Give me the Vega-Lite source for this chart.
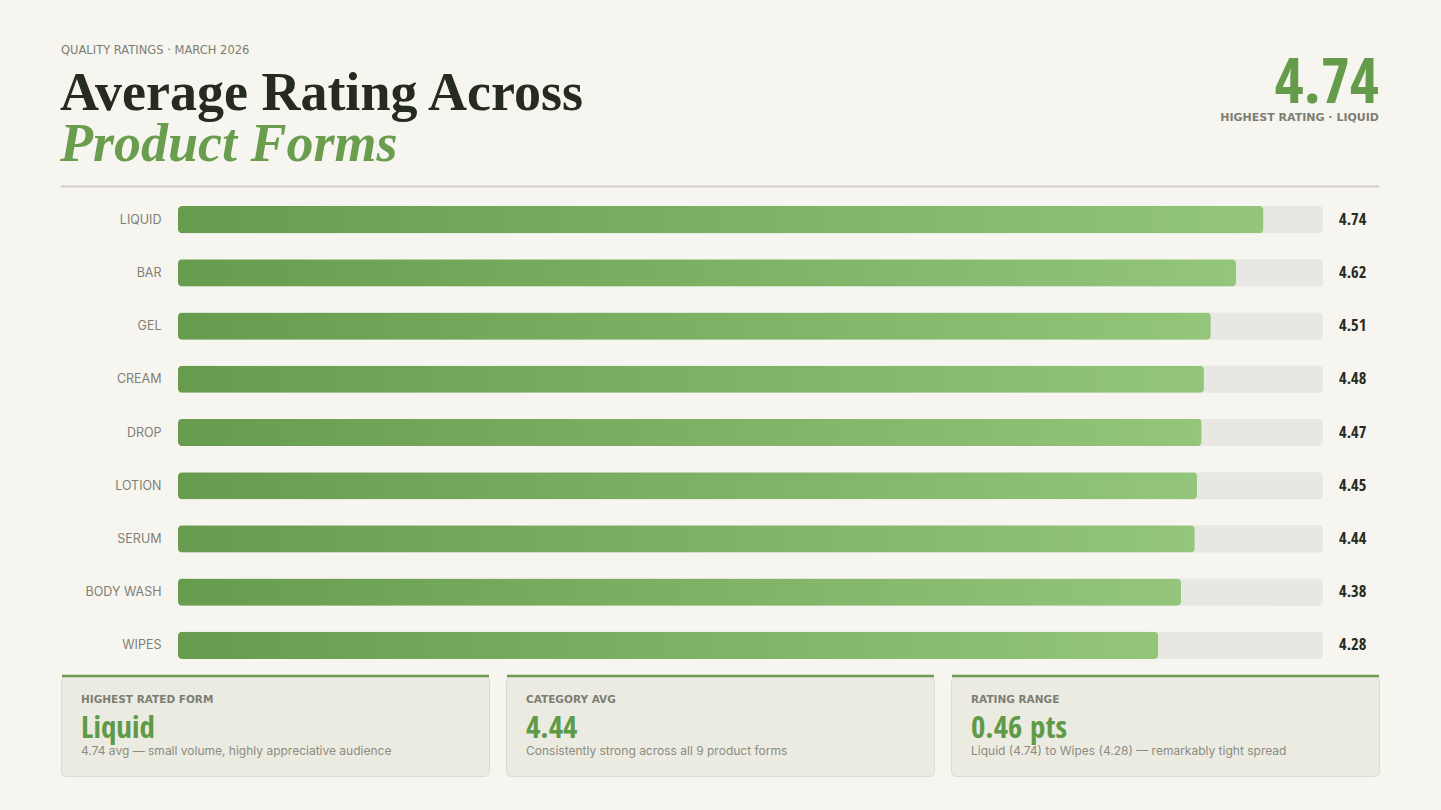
{
  "$schema": "https://vega.github.io/schema/vega-lite/v6.json",
  "background": "#f6f5f0",
  "padding": {"left": 60, "top": 30, "right": 63, "bottom": 34},
  "spacing": 4,
  "bounds": "flush",
  "datasets": {
    "forms": [
      {"form": "Liquid", "rating": 4.74},
      {"form": "Bar", "rating": 4.62},
      {"form": "Gel", "rating": 4.51},
      {"form": "Cream", "rating": 4.48},
      {"form": "Drop", "rating": 4.47},
      {"form": "Lotion", "rating": 4.45},
      {"form": "Serum", "rating": 4.44},
      {"form": "Body Wash", "rating": 4.38},
      {"form": "Wipes", "rating": 4.28}
    ],
    "header": [
      {"eyebrow": "QUALITY RATINGS · MARCH 2026", "line1": "Average Rating Across", "line2": "Product Forms", "top": "4.74", "topnote": "HIGHEST RATING · LIQUID"}
    ],
    "cards": [
      {"order": 1, "label": "HIGHEST RATED FORM", "value": "Liquid", "note": "4.74 avg — small volume, highly appreciative audience"},
      {"order": 2, "label": "CATEGORY AVG", "value": "4.44", "note": "Consistently strong across all 9 product forms"},
      {"order": 3, "label": "RATING RANGE", "value": "0.46 pts", "note": "Liquid (4.74) to Wipes (4.28) — remarkably tight spread"}
    ]
  },
  "vconcat": [
    {
      "data": {"name": "header"},
      "width": 1318,
      "height": 159,
      "layer": [
        {
          "mark": {"type": "text", "align": "left", "baseline": "middle", "font": "DejaVu Sans", "fontSize": 11.5, "fontWeight": 500, "color": "#7d7f70"},
          "encoding": {"text": {"field": "eyebrow"}, "x": {"value": 0}, "y": {"value": 21}}
        },
        {
          "mark": {"type": "text", "align": "left", "baseline": "alphabetic", "font": "Liberation Serif", "fontSize": 54, "fontWeight": "bold", "color": "#262b20"},
          "encoding": {"text": {"field": "line1"}, "x": {"value": -1}, "y": {"value": 80}}
        },
        {
          "mark": {"type": "text", "align": "left", "baseline": "alphabetic", "font": "Liberation Serif", "fontSize": 54, "fontWeight": "bold", "fontStyle": "italic", "color": "#6a9e4e"},
          "encoding": {"text": {"field": "line2"}, "x": {"value": -1}, "y": {"value": 131}}
        },
        {
          "mark": {"type": "text", "align": "right", "baseline": "alphabetic", "font": "Open Sans Condensed", "fontSize": 63, "fontWeight": "bold", "color": "#659c4c"},
          "encoding": {"text": {"field": "top"}, "x": {"value": "width"}, "y": {"value": 73}}
        },
        {
          "mark": {"type": "text", "align": "right", "baseline": "middle", "font": "DejaVu Sans", "fontSize": 11, "fontWeight": 600, "color": "#7d7f70"},
          "encoding": {"text": {"field": "topnote"}, "x": {"value": "width"}, "y": {"value": 88}}
        },
        {
          "mark": {"type": "rule", "stroke": "#d3d1c9", "strokeWidth": 2},
          "encoding": {"x": {"value": 0}, "x2": {"value": "width"}, "y": {"value": 156.5}}
        }
      ]
    },
    {
      "data": {"name": "forms"},
      "width": 1318,
      "height": 479,
      "encoding": {
        "y": {
          "field": "form",
          "type": "nominal",
          "sort": null,
          "scale": {"paddingInner": 0.49, "paddingOuter": 0.245},
          "axis": {
            "title": null,
            "domain": false,
            "ticks": false,
            "grid": false,
            "offset": -117,
            "labelExpr": "upper(datum.label)",
            "labelFont": "Inter",
            "labelFontSize": 12.5,
            "labelColor": "#7f7f76",
            "labelPadding": 17,
            "minExtent": 0
          }
        }
      },
      "layer": [
        {
          "mark": {"type": "bar", "color": "#e8e7e1", "cornerRadius": 4},
          "encoding": {
            "x": {"datum": 0, "type": "quantitative", "scale": {"domain": [0, 5], "nice": false, "range": [117, 1262]}, "axis": null},
            "x2": {"datum": 5}
          }
        },
        {
          "mark": {
            "type": "bar",
            "cornerRadius": 4,
            "color": {
              "gradient": "linear",
              "x1": 0, "x2": 1, "y1": 0, "y2": 0,
              "stops": [
                {"offset": 0, "color": "#679b4e"},
                {"offset": 1, "color": "#93c67a"}
              ]
            }
          },
          "encoding": {
            "x": {"field": "rating", "type": "quantitative"}
          }
        },
        {
          "mark": {"type": "text", "align": "left", "baseline": "middle", "dx": 16, "font": "Open Sans Condensed", "fontSize": 16.5, "fontWeight": "bold", "color": "#262b20"},
          "encoding": {
            "x": {"datum": 5, "type": "quantitative"},
            "text": {"field": "rating", "type": "quantitative", "format": ".2f"}
          }
        }
      ]
    },
    {
      "spacing": 17,
      "bounds": "flush",
      "hconcat": [
        {
          "data": {"name": "cards"},
          "transform": [{"filter": "datum.order === 1"}],
          "width": 428,
          "height": 100,
          "view": {"fill": "#ebebe2", "stroke": "#dcdbd2", "cornerRadius": 5},
          "layer": [
            {
              "mark": {"type": "rule", "stroke": "#6e9a55", "strokeWidth": 2.5},
              "encoding": {"x": {"value": 1}, "x2": {"value": "width"}, "y": {"value": 0}}
            },
            {
              "mark": {"type": "text", "align": "left", "baseline": "middle", "font": "DejaVu Sans", "fontSize": 10.5, "fontWeight": 700, "color": "#7c7e72"},
              "encoding": {"text": {"field": "label"}, "x": {"value": 20}, "y": {"value": 24}}
            },
            {
              "mark": {"type": "text", "align": "left", "baseline": "alphabetic", "font": "Open Sans Condensed", "fontSize": 31, "fontWeight": "bold", "color": "#5f9a48"},
              "encoding": {"text": {"field": "value"}, "x": {"value": 20}, "y": {"value": 62}}
            },
            {
              "mark": {"type": "text", "align": "left", "baseline": "middle", "font": "Inter", "fontSize": 12, "color": "#8b8b80"},
              "encoding": {"text": {"field": "note"}, "x": {"value": 20}, "y": {"value": 75}}
            }
          ]
        },
        {
          "data": {"name": "cards"},
          "transform": [{"filter": "datum.order === 2"}],
          "width": 428,
          "height": 100,
          "view": {"fill": "#ebebe2", "stroke": "#dcdbd2", "cornerRadius": 5},
          "layer": [
            {
              "mark": {"type": "rule", "stroke": "#6e9a55", "strokeWidth": 2.5},
              "encoding": {"x": {"value": 1}, "x2": {"value": "width"}, "y": {"value": 0}}
            },
            {
              "mark": {"type": "text", "align": "left", "baseline": "middle", "font": "DejaVu Sans", "fontSize": 10.5, "fontWeight": 700, "color": "#7c7e72"},
              "encoding": {"text": {"field": "label"}, "x": {"value": 20}, "y": {"value": 24}}
            },
            {
              "mark": {"type": "text", "align": "left", "baseline": "alphabetic", "font": "Open Sans Condensed", "fontSize": 31, "fontWeight": "bold", "color": "#5f9a48"},
              "encoding": {"text": {"field": "value"}, "x": {"value": 20}, "y": {"value": 62}}
            },
            {
              "mark": {"type": "text", "align": "left", "baseline": "middle", "font": "Inter", "fontSize": 12, "color": "#8b8b80"},
              "encoding": {"text": {"field": "note"}, "x": {"value": 20}, "y": {"value": 75}}
            }
          ]
        },
        {
          "data": {"name": "cards"},
          "transform": [{"filter": "datum.order === 3"}],
          "width": 428,
          "height": 100,
          "view": {"fill": "#ebebe2", "stroke": "#dcdbd2", "cornerRadius": 5},
          "layer": [
            {
              "mark": {"type": "rule", "stroke": "#6e9a55", "strokeWidth": 2.5},
              "encoding": {"x": {"value": 1}, "x2": {"value": "width"}, "y": {"value": 0}}
            },
            {
              "mark": {"type": "text", "align": "left", "baseline": "middle", "font": "DejaVu Sans", "fontSize": 10.5, "fontWeight": 700, "color": "#7c7e72"},
              "encoding": {"text": {"field": "label"}, "x": {"value": 20}, "y": {"value": 24}}
            },
            {
              "mark": {"type": "text", "align": "left", "baseline": "alphabetic", "font": "Open Sans Condensed", "fontSize": 31, "fontWeight": "bold", "color": "#5f9a48"},
              "encoding": {"text": {"field": "value"}, "x": {"value": 20}, "y": {"value": 62}}
            },
            {
              "mark": {"type": "text", "align": "left", "baseline": "middle", "font": "Inter", "fontSize": 12, "color": "#8b8b80"},
              "encoding": {"text": {"field": "note"}, "x": {"value": 20}, "y": {"value": 75}}
            }
          ]
        }
      ]
    }
  ],
  "config": {
    "view": {"stroke": null}
  }
}
